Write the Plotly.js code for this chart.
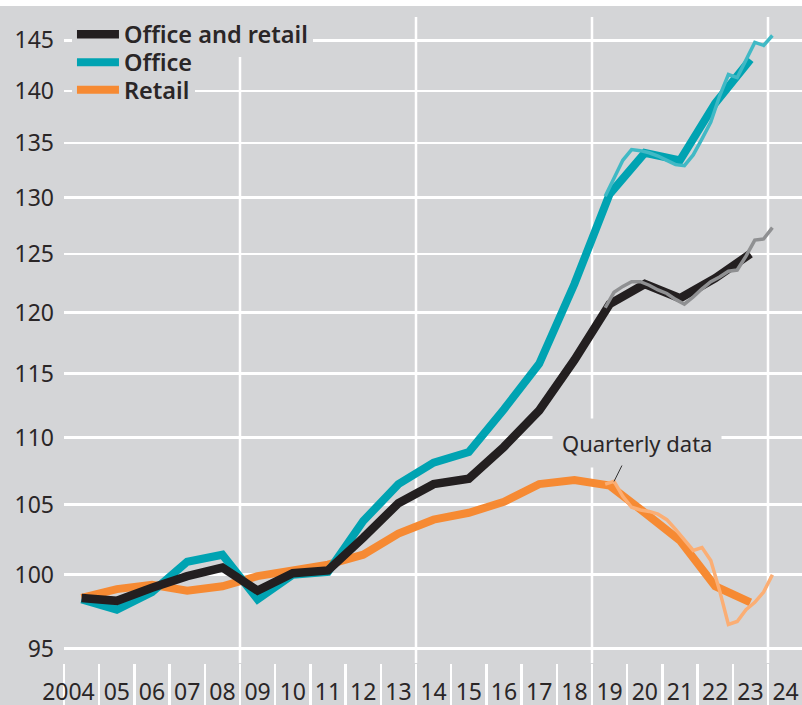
<!DOCTYPE html>
<html><head><meta charset="utf-8">
<script src="https://cdn.plot.ly/plotly-3.0.1.min.js"></script>
<style>html,body{margin:0;padding:0;background:#fff;} #chart{width:802px;height:699px;margin-top:6px;}</style>
</head><body><div id="chart"></div><script>
// ---- data ----
const years = [2004,2005,2006,2007,2008,2009,2010,2011,2012,2013,2014,2015,2016,2017,2018,2019,2020,2021,2022,2023];
const officeRetail = [98.4,98.2,99.1,99.9,100.5,98.9,100.1,100.3,102.6,105.1,106.5,106.9,109.3,112.1,116.1,120.7,122.4,121.2,122.9,125.0];
const office = [98.3,97.6,98.8,100.9,101.4,98.3,100.0,100.2,103.8,106.5,108.1,108.9,112.2,115.8,122.4,130.3,134.1,133.4,138.8,143.1];
const retail = [98.4,99.0,99.3,98.9,99.2,99.9,100.3,100.7,101.4,102.9,103.9,104.4,105.2,106.5,106.8,106.4,104.4,102.4,99.2,98.1];

const quarters = ['2019Q2','2019Q3','2019Q4','2020Q1','2020Q2','2020Q3','2020Q4','2021Q1','2021Q2','2021Q3','2021Q4','2022Q1','2022Q2','2022Q3','2022Q4','2023Q1','2023Q2','2023Q3','2023Q4','2024Q1'];
const officeRetailQ = [120.4,121.7,122.2,122.6,122.6,122.3,121.9,121.6,121.1,120.7,121.3,122.0,122.6,123.0,123.5,123.6,124.8,126.2,126.3,127.3];
const officeQ = [130.1,131.8,133.4,134.4,134.3,134.1,133.8,133.4,133.0,132.9,133.9,135.4,137.0,139.5,141.6,141.3,143.0,144.8,144.5,145.5];
const retailQ = [106.5,106.7,105.6,104.8,104.6,104.5,104.3,103.9,103.2,102.4,101.7,101.9,101.0,98.9,96.6,96.8,97.6,98.1,98.8,100.0];

const tickYears = [2004,2005,2006,2007,2008,2009,2010,2011,2012,2013,2014,2015,2016,2017,2018,2019,2020,2021,2022,2023,2024];
const tickLabels = ['2004','05','06','07','08','09','10','11','12','13','14','15','16','17','18','19','20','21','22','23','24'];
const yTicks = [95,100,105,110,115,120,125,130,135,140,145];
const fiveYearMarks = [2008.5, 2013.5, 2018.5, 2023.5];

// ---- styling ----
const BG = '#d4d5d7';
const FONT = 'Noto Sans, Open Sans, sans-serif';
const TXT = '#2a2627';
const C = {black:'#231f20', teal:'#00a3b2', orange:'#f68a33', lteal:'#40b9c5', gray:'#8f9092', lorange:'#fbae74'};

// quarter label -> axis position (annual points sit at mid-year)
const qx = quarters.map(q => { const y = +q.slice(0,4), n = +q.slice(5); return y - 0.5 + (n - 0.5) / 4; });

const traces = [
  {x: years, y: retail, name: 'Retail', mode: 'lines', line: {color: C.orange, width: 8}, legend: 'legend2'},
  {x: years, y: office, name: 'Office', mode: 'lines', line: {color: C.teal, width: 8}, legend: 'legend3'},
  {x: years, y: officeRetail, name: 'Office and retail', mode: 'lines', line: {color: C.black, width: 8.5}, legend: 'legend'},
  {x: qx, y: retailQ, mode: 'lines', line: {color: C.lorange, width: 3.5}, showlegend: false},
  {x: qx, y: officeQ, mode: 'lines', line: {color: C.lteal, width: 3.5}, showlegend: false},
  {x: qx, y: officeRetailQ, mode: 'lines', line: {color: C.gray, width: 3.5}, showlegend: false}
];

const legFont = {family: FONT, size: 23.5, color: TXT, weight: 600};
function leg(y, bg) {
  return {x: 0.0108, xanchor: 'left', y: y, yanchor: 'middle', bgcolor: bg, borderwidth: 0,
          font: legFont, itemwidth: 42, tracegroupgap: 0};
}

const layout = {
  width: 802, height: 699,
  margin: {l: 64, r: 0, t: 11, b: 42},
  paper_bgcolor: BG, plot_bgcolor: BG,
  showlegend: true,
  hovermode: false,
  xaxis: {
    range: [2003.5, 2024.466], tickmode: 'array',
    tickvals: tickYears,
    ticktext: tickLabels.map((t, i) => i === 0 ? t + '\u2007\u2007' : t),
    tickangle: 0, automargin: false, ticks: '',
    ticklabelstandoff: 13,
    showgrid: false, zeroline: false, showline: false,
    tickfont: {family: FONT, size: 23, color: TXT},
    minor: {tickmode: 'array', tickvals: tickYears.map(y => y - 0.5), showgrid: false,
            ticks: 'outside', ticklen: 42, tickwidth: 2.5, tickcolor: '#ffffff'}
  },
  yaxis: {
    type: 'log', range: [1.97333, 2.16844],
    tickmode: 'array', tickvals: yTicks, ticktext: yTicks.map(String),
    showgrid: true, gridcolor: '#ffffff', gridwidth: 2.5, zeroline: false, ticks: '',
    ticklabelstandoff: 9,
    tickfont: {family: FONT, size: 23, color: TXT}
  },
  shapes: fiveYearMarks.map(v => ({type: 'line', xref: 'x', yref: 'paper', x0: v, x1: v, y0: 0, y1: 1,
                                   layer: 'below', line: {color: '#ffffff', width: 2.5}})),
  legend: leg(0.9729, BG),
  legend2: leg(0.887, BG),
  legend3: leg(0.9296, 'rgba(0,0,0,0)'),
  annotations: [
    {x: 2019.78, y: Math.log10(109.6), xref: 'x', yref: 'y', text: 'Quarterly data', showarrow: false,
     font: {family: FONT, size: 22, color: TXT}, bgcolor: BG, borderpad: 9},
    {x: 2019.125, y: Math.log10(106.7), xref: 'x', yref: 'y', ax: 2019.372, ay: Math.log10(108.0),
     axref: 'x', ayref: 'y', text: '', showarrow: true, arrowhead: 0, arrowwidth: 1, arrowcolor: '#333333'}
  ]
};

Plotly.newPlot('chart', traces, layout, {displayModeBar: false, staticPlot: true});
</script></body></html>
